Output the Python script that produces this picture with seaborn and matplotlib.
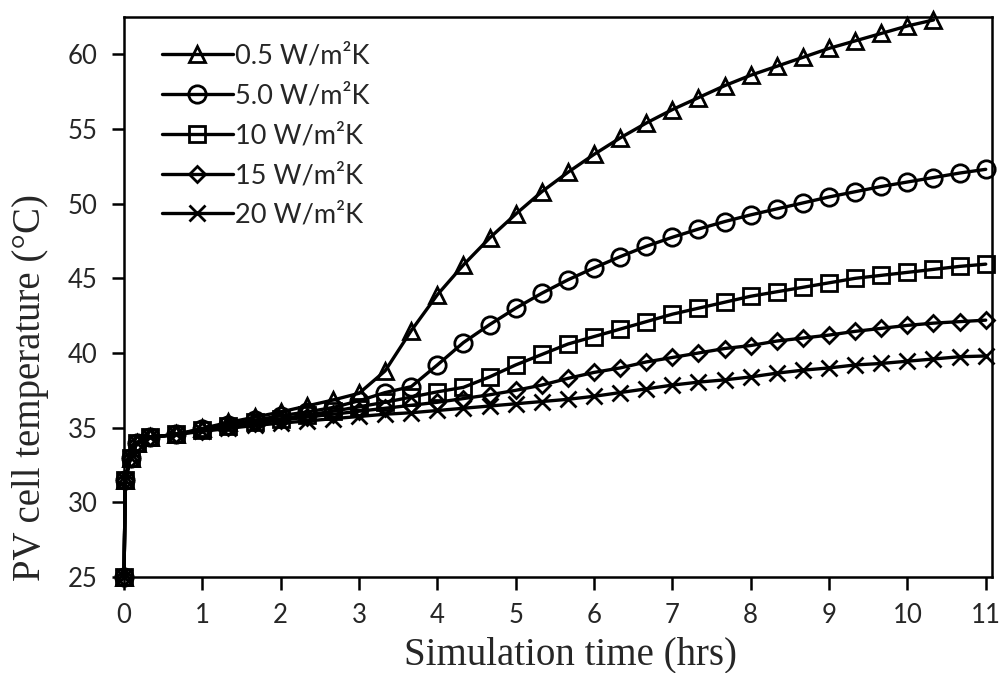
import matplotlib
matplotlib.use("Agg")
import matplotlib.pyplot as plt
import seaborn as sns
import pandas as pd

# ---- data ----
hours = [0.0, 0.017, 0.083, 0.167, 0.333, 0.667,
         1.0, 1.333, 1.667, 2.0, 2.333, 2.667, 3.0, 3.333, 3.667, 4.0,
         4.333, 4.667, 5.0, 5.333, 5.667, 6.0, 6.333, 6.667, 7.0, 7.333,
         7.667, 8.0, 8.333, 8.667, 9.0, 9.333, 9.667, 10.0, 10.333, 10.667, 11.0]

start = [25.0, 31.5, 33.0, 34.0, 34.35, 34.55]

h05 = start + [34.95, 35.35, 35.7, 36.05, 36.45, 36.85, 37.3, 38.8, 41.5, 43.9,
               45.9, 47.7, 49.3, 50.8, 52.1, 53.3, 54.4, 55.4, 56.3, 57.1,
               57.9, 58.6, 59.2, 59.8, 60.4, 60.9, 61.4, 61.9, 62.3]
h50 = start + [34.9, 35.2, 35.5, 35.8, 36.05, 36.35, 36.8, 37.35, 37.75, 39.2,
               40.7, 41.9, 43.0, 44.0, 44.9, 45.7, 46.45, 47.15, 47.75, 48.3,
               48.8, 49.25, 49.65, 50.05, 50.45, 50.8, 51.15, 51.45, 51.75, 52.05, 52.3]
h10 = start + [34.85, 35.1, 35.35, 35.6, 35.85, 36.1, 36.4, 36.7, 37.05, 37.4,
               37.7, 38.4, 39.2, 39.9, 40.6, 41.1, 41.6, 42.1, 42.6, 43.0,
               43.4, 43.8, 44.1, 44.4, 44.7, 45.0, 45.2, 45.4, 45.6, 45.8, 45.95]
h15 = start + [34.8, 35.05, 35.3, 35.5, 35.7, 35.9, 36.1, 36.3, 36.5, 36.7,
               36.95, 37.2, 37.5, 37.85, 38.3, 38.7, 39.0, 39.4, 39.7, 40.0,
               40.3, 40.5, 40.8, 41.0, 41.2, 41.45, 41.65, 41.85, 42.0, 42.1, 42.2]
h20 = start + [34.75, 34.95, 35.15, 35.3, 35.45, 35.6, 35.75, 35.9, 36.0, 36.15,
               36.3, 36.45, 36.6, 36.75, 36.9, 37.1, 37.35, 37.6, 37.85, 38.05,
               38.2, 38.4, 38.65, 38.85, 39.0, 39.2, 39.3, 39.45, 39.6, 39.75, 39.8]

labels = ["0.5 W/m²K", "5.0 W/m²K", "10 W/m²K", "15 W/m²K", "20 W/m²K"]
series = [h05, h50, h10, h15, h20]
xticks = list(range(0, 12))
yticks = [25, 30, 35, 40, 45, 50, 55, 60]

rows = []
for lab, vals in zip(labels, series):
    for t, v in zip(hours, vals):
        rows.append({"time": t, "temp": v, "case": lab})
df = pd.DataFrame(rows)

# ---- style ----
sns.set_style("ticks")
plt.rcParams["font.family"] = ["Lato", "DejaVu Sans"]

fig = plt.figure(figsize=(10.02, 6.73), dpi=100)
ax = fig.add_axes([124 / 1002, 1 - 577 / 673, (992 - 124) / 1002, (577 - 17) / 673])

markers = ["^", "o", "s", "D", "x"]
msizes = [11, 12.5, 11, 8.5, 11]
for lab, m, ms in zip(labels, markers, msizes):
    sns.lineplot(data=df[df["case"] == lab], x="time", y="temp", ax=ax,
                 color="black", linewidth=2.4, marker=m, markersize=ms,
                 markerfacecolor="none", markeredgecolor="black",
                 markeredgewidth=2.0, label=lab, clip_on=False, estimator=None)

ax.set_xlim(0, 11.08)
ax.set_ylim(25, 62.5)
ax.set_xticks(xticks)
ax.set_yticks(yticks)
ax.tick_params(axis="both", direction="out", length=9, width=1.8,
               labelsize=18.5, color="black", pad=10)
for s in ax.spines.values():
    s.set_linewidth(1.8)
    s.set_color("black")

ax.set_xlabel("Simulation time (hrs)", fontsize=28, family="Liberation Serif")
ax.set_ylabel("PV cell temperature (°C)", fontsize=28, family="Liberation Serif")
ax.xaxis.label.set_va("center")
ax.xaxis.set_label_coords(0.514, -0.139)
ax.yaxis.label.set_va("center")
ax.yaxis.set_label_coords(-0.108, 0.339)

leg = ax.legend(loc="upper left", bbox_to_anchor=(0.044, 0.953), frameon=False,
                fontsize=19.5, handlelength=2.6, handletextpad=0.1,
                labelspacing=0.55, borderpad=0, borderaxespad=0)

fig.savefig("out.png", dpi=100)
